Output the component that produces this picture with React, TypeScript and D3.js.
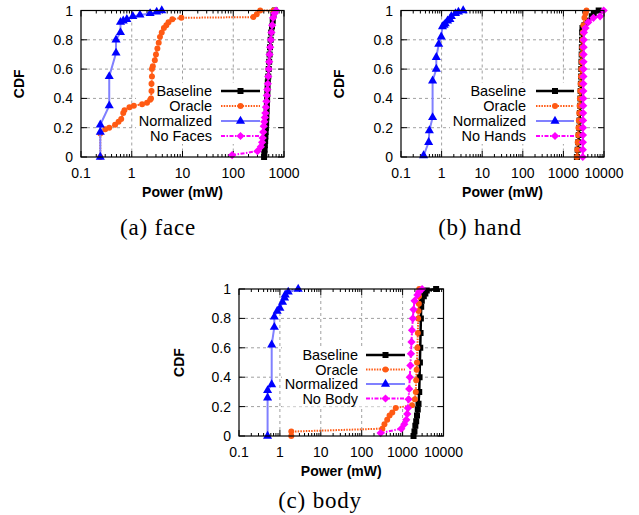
import React, { useRef, useEffect } from 'react';
import * as d3 from 'd3';

// tick values and labels
const cdfTicks = [0, 0.2, 0.4, 0.6, 0.8, 1];
const cdfLabels = ['0', '0.2', '0.4', '0.6', '0.8', '1'];
const powerTicksFace = [0.1, 1, 10, 100, 1000];
const powerTicksWide = [0.1, 1, 10, 100, 1000, 10000];
const powerLabels = ['0.1', '1', '10', '100', '1000', '10000'];

const seriesNames = ['Baseline', 'Oracle', 'Normalized'];
const lastNames = ['No Faces', 'No Hands', 'No Body'];
const captions = ['(a) face', '(b) hand', '(c) body'];

// (a) face : [power mW, cdf]
const faceBaseline: [number, number][] = [
  [405, 0], [410, 0.02], [415, 0.05], [420, 0.08], [425, 0.11], [430, 0.14], [435, 0.17],
  [440, 0.2], [445, 0.23], [450, 0.27], [455, 0.31], [460, 0.35], [465, 0.39], [470, 0.43],
  [475, 0.47], [480, 0.51], [490, 0.55], [500, 0.6], [510, 0.65], [520, 0.7], [530, 0.75],
  [545, 0.8], [560, 0.85], [580, 0.89], [600, 0.93], [620, 0.97], [660, 1.0],
];
const faceOracle: [number, number][] = [
  [0.24, 0], [0.24, 0.16], [0.3, 0.19], [0.36, 0.2], [0.47, 0.22], [0.55, 0.24], [0.62, 0.26],
  [0.68, 0.3], [0.72, 0.32], [0.9, 0.34], [1.1, 0.35], [1.6, 0.36], [2.0, 0.37], [2.3, 0.39],
  [2.4, 0.4], [2.45, 0.45], [2.45, 0.5], [2.5, 0.55], [2.5, 0.6], [2.6, 0.62], [2.85, 0.66],
  [3.0, 0.7], [3.2, 0.74], [3.4, 0.78], [3.6, 0.82], [3.9, 0.85], [4.3, 0.88], [4.8, 0.9],
  [5.3, 0.92], [6.3, 0.94], [9.5, 0.95], [250, 0.955], [290, 0.975], [340, 1.0], [620, 1.0],
];
const faceNormalized: [number, number][] = [
  [0.24, 0], [0.24, 0.17], [0.24, 0.22], [0.36, 0.35], [0.36, 0.55], [0.49, 0.71], [0.49, 0.8],
  [0.6, 0.85], [0.6, 0.92], [0.68, 0.93], [0.8, 0.94], [1.05, 0.96], [1.45, 0.97], [2.3, 0.98],
  [3.1, 0.99], [3.9, 1.0],
];
const faceNoFaces: [number, number][] = [
  [95, 0.013], [300, 0.04], [350, 0.07], [370, 0.1], [380, 0.13], [390, 0.17], [400, 0.21],
  [410, 0.24], [420, 0.27], [430, 0.3], [440, 0.34], [450, 0.38], [460, 0.42], [470, 0.46],
  [480, 0.5], [490, 0.55], [500, 0.6], [510, 0.65], [520, 0.7], [535, 0.75], [550, 0.8],
  [565, 0.85], [585, 0.9], [610, 0.95], [650, 0.98], [700, 1.0],
];

// (b) hand
const handBaseline: [number, number][] = [
  [2150, 0], [2250, 0.05], [2330, 0.1], [2400, 0.15], [2450, 0.2], [2500, 0.25], [2550, 0.3],
  [2600, 0.35], [2630, 0.4], [2660, 0.45], [2700, 0.5], [2730, 0.55], [2760, 0.6], [2790, 0.65],
  [2820, 0.7], [2850, 0.75], [2880, 0.8], [2900, 0.85], [2950, 0.88], [3300, 0.9], [4000, 0.93],
  [5000, 0.96], [5600, 0.98], [7400, 1.0],
];
const handOracle: [number, number][] = [
  [2150, 0], [2200, 0.05], [2250, 0.1], [2300, 0.15], [2350, 0.2], [2400, 0.25], [2450, 0.3],
  [2500, 0.35], [2550, 0.4], [2600, 0.45], [2650, 0.5], [2700, 0.55], [2750, 0.6], [2800, 0.65],
  [2850, 0.7], [2900, 0.75], [2950, 0.8], [3020, 0.85], [3100, 0.9], [3300, 0.95], [3500, 0.98],
  [3700, 1.0],
];
const handNormalized: [number, number][] = [
  [0.36, 0.01], [0.48, 0.1], [0.5, 0.18], [0.6, 0.27], [0.6, 0.52], [0.74, 0.6], [0.74, 0.68],
  [0.85, 0.77], [0.98, 0.82], [1.05, 0.89], [1.15, 0.9], [1.23, 0.91], [1.4, 0.93], [1.6, 0.94],
  [1.74, 0.96], [2.2, 0.98], [2.6, 0.99], [3.4, 1.0],
];
const handNoHands: [number, number][] = [
  [3000, 0], [3010, 0.05], [3020, 0.1], [3030, 0.15], [3040, 0.2], [3050, 0.25], [3060, 0.3],
  [3070, 0.35], [3080, 0.4], [3090, 0.45], [3100, 0.5], [3110, 0.55], [3120, 0.6], [3130, 0.65],
  [3140, 0.7], [3150, 0.75], [3170, 0.8], [3200, 0.85], [3500, 0.88], [4100, 0.92], [5500, 0.95],
  [8000, 0.96], [9800, 1.0],
];

// (c) body
const bodyBaseline: [number, number][] = [
  [1850, 0], [1950, 0.03], [2050, 0.07], [2150, 0.1], [2250, 0.14], [2350, 0.18], [2450, 0.22],
  [2550, 0.3], [2600, 0.4], [2650, 0.5], [2700, 0.6], [2750, 0.7], [2800, 0.8], [2850, 0.88],
  [2950, 0.92], [3300, 0.95], [3600, 0.97], [3900, 0.99], [6600, 1.0],
];
const bodyOracle: [number, number][] = [
  [1.9, 0], [1.9, 0.03], [320, 0.05], [360, 0.08], [420, 0.11], [480, 0.14], [560, 0.16],
  [680, 0.19], [1700, 0.21], [2000, 0.25], [2100, 0.3], [2150, 0.38], [2200, 0.45], [2250, 0.5],
  [2300, 0.6], [2360, 0.7], [2400, 0.8], [2450, 0.85], [2500, 0.9], [2520, 0.95], [2550, 1.0],
];
const bodyNormalized: [number, number][] = [
  [0.5, 0], [0.5, 0.26], [0.5, 0.31], [0.63, 0.35], [0.63, 0.62], [0.73, 0.74], [0.73, 0.81],
  [0.86, 0.85], [1.0, 0.87], [1.16, 0.91], [1.3, 0.94], [1.35, 0.96], [1.6, 0.98], [2.8, 1.0],
];
const bodyNoBody: [number, number][] = [
  [290, 0.02], [930, 0.05], [1100, 0.08], [1230, 0.11], [1300, 0.15], [1350, 0.19], [1400, 0.25],
  [1450, 0.32], [1500, 0.4], [1550, 0.48], [1600, 0.56], [1650, 0.64], [1700, 0.72], [1780, 0.8],
  [1850, 0.86], [1960, 0.92], [2300, 0.96], [2500, 0.98], [3000, 1.0],
];

// line styles, in plot order
const styles = [
  { line: '#000000', mark: '#000000', width: 2.5, dash: null, symbol: 'square', size: 36 },
  { line: '#ff5a14', mark: '#ff5a14', width: 2, dash: '1.5,1.2', symbol: 'circle', size: 28 },
  { line: '#8080ff', mark: '#0000ff', width: 2, dash: null, symbol: 'triangle', size: 36 },
  { line: '#ff00ff', mark: '#ff00ff', width: 2, dash: '4,1.5,1.5,1.5', symbol: 'diamond', size: 34 },
];

const sansFont = 'Liberation Sans, Arial, sans-serif';

function symbolPath(kind: string, size: number) {
  if (kind === 'square' || kind === 'diamond') return d3.symbol(d3.symbolSquare, size)();
  if (kind === 'circle') return d3.symbol(d3.symbolCircle, size)();
  return d3.symbol(d3.symbolTriangle, size)();
}

const Panel = ({ id, left, top, right, bottom, xMax, xTicks, data, lastName, legend, cdfX, caption }: any) => {
  const ref = useRef<SVGGElement>(null);

  useEffect(() => {
    const g = d3.select(ref.current);
    g.selectAll('*').remove();

    // 1. scales
    const x = d3.scaleLog().domain([0.1, xMax]).range([left, right]);
    const y = d3.scaleLinear().domain([0, 1]).range([bottom, top]);

    // 2. grid
    g.append('g').selectAll('line')
      .data(xTicks.slice(1, -1))
      .join('line')
        .attr('x1', (d: number) => x(d)).attr('x2', (d: number) => x(d))
        .attr('y1', top).attr('y2', bottom)
        .attr('stroke', '#a0a0a0').attr('stroke-dasharray', '3,3');
    g.append('g').selectAll('line')
      .data(cdfTicks.slice(1, -1))
      .join('line')
        .attr('x1', left).attr('x2', right)
        .attr('y1', (d) => y(d)).attr('y2', (d) => y(d))
        .attr('stroke', '#a0a0a0').attr('stroke-dasharray', '3,3');

    // legend box hides the grid
    const rows = legend.rows;
    g.append('rect')
      .attr('x', legend.textRight - 76).attr('y', rows[0] - 8)
      .attr('width', legend.lineEnd - legend.textRight + 80)
      .attr('height', rows[3] - rows[0] + 16)
      .attr('fill', 'white');

    // 3. ticks (inward, mirrored)
    const minor: number[] = [];
    xTicks.slice(0, -1).forEach((t: number) => {
      for (let k = 2; k < 10; k++) minor.push(t * k);
    });
    const tickG = g.append('g').attr('stroke', 'black').attr('stroke-width', 1);
    xTicks.forEach((t: number) => {
      tickG.append('line').attr('x1', x(t)).attr('x2', x(t)).attr('y1', bottom).attr('y2', bottom - 6);
      tickG.append('line').attr('x1', x(t)).attr('x2', x(t)).attr('y1', top).attr('y2', top + 6);
    });
    minor.forEach((t) => {
      tickG.append('line').attr('x1', x(t)).attr('x2', x(t)).attr('y1', bottom).attr('y2', bottom - 3);
      tickG.append('line').attr('x1', x(t)).attr('x2', x(t)).attr('y1', top).attr('y2', top + 3);
    });
    cdfTicks.forEach((t) => {
      tickG.append('line').attr('x1', left).attr('x2', left + 6).attr('y1', y(t)).attr('y2', y(t));
      tickG.append('line').attr('x1', right).attr('x2', right - 6).attr('y1', y(t)).attr('y2', y(t));
    });

    // tick labels
    g.append('g').selectAll('text')
      .data(xTicks)
      .join('text')
        .attr('x', (d: number) => x(d))
        .attr('y', bottom + 21)
        .attr('text-anchor', 'middle')
        .attr('font-family', sansFont).attr('font-size', 14)
        .text((d: number, i: number) => powerLabels[i]);
    g.append('g').selectAll('text')
      .data(cdfTicks)
      .join('text')
        .attr('x', left - 8)
        .attr('y', (d) => y(d) + 5)
        .attr('text-anchor', 'end')
        .attr('font-family', sansFont).attr('font-size', 14)
        .text((d, i) => cdfLabels[i]);

    // axis titles
    g.append('text')
      .attr('x', (left + right) / 2).attr('y', bottom + 40)
      .attr('text-anchor', 'middle')
      .attr('font-family', sansFont).attr('font-size', 14).attr('font-weight', 'bold')
      .text('Power (mW)');
    g.append('text')
      .attr('transform', `translate(${cdfX}, ${(top + bottom) / 2}) rotate(-90)`)
      .attr('text-anchor', 'middle')
      .attr('font-family', sansFont).attr('font-size', 14).attr('font-weight', 'bold')
      .text('CDF');

    // 4. curves
    const clipId = `clip-${id}`;
    g.append('clipPath').attr('id', clipId)
      .append('rect').attr('x', left).attr('y', top - 6).attr('width', right - left + 6).attr('height', bottom - top + 12);
    const plot = g.append('g').attr('clip-path', `url(#${clipId})`);
    const line = d3.line<[number, number]>().x((d) => x(d[0])).y((d) => y(d[1]));

    data.forEach((pts: [number, number][], si: number) => {
      const st = styles[si];
      plot.append('path')
        .attr('d', line(pts))
        .attr('fill', 'none')
        .attr('stroke', st.line)
        .attr('stroke-width', st.width)
        .attr('stroke-dasharray', st.dash);
      plot.append('g').selectAll('path')
        .data(pts)
        .join('path')
          .attr('d', symbolPath(st.symbol, st.size))
          .attr('transform', (d) => `translate(${x(d[0])}, ${y(d[1])})${st.symbol === 'diamond' ? ' rotate(45)' : ''}`)
          .attr('fill', st.mark);
    });

    // frame
    g.append('rect')
      .attr('x', left).attr('y', top)
      .attr('width', right - left).attr('height', bottom - top)
      .attr('fill', 'none').attr('stroke', 'black').attr('stroke-width', 1.2);

    // 5. legend
    const names = [...seriesNames, lastName];
    names.forEach((name, i) => {
      const st = styles[i];
      const ry = rows[i];
      g.append('text')
        .attr('x', legend.textRight).attr('y', ry + 5)
        .attr('text-anchor', 'end')
        .attr('font-family', sansFont).attr('font-size', 14.5)
        .text(name);
      g.append('line')
        .attr('x1', legend.lineStart).attr('x2', legend.lineEnd)
        .attr('y1', ry).attr('y2', ry)
        .attr('stroke', st.line).attr('stroke-width', st.width)
        .attr('stroke-dasharray', st.dash);
      g.append('path')
        .attr('d', symbolPath(st.symbol, st.size))
        .attr('transform', `translate(${(legend.lineStart + legend.lineEnd) / 2}, ${ry})${st.symbol === 'diamond' ? ' rotate(45)' : ''}`)
        .attr('fill', st.mark);
    });

    // caption
    g.append('text')
      .attr('x', caption.x).attr('y', caption.y)
      .attr('text-anchor', 'middle')
      .attr('font-family', 'Liberation Serif, Times New Roman, serif')
      .attr('font-size', 23).attr('letter-spacing', 0.8)
      .text(caption.text);
  }, []);

  return <g ref={ref}></g>;
};

const App = () => {
  return (
    <svg width={639} height={515} style={{ position: 'absolute', left: 0, top: 0, background: 'white' }}>
      <Panel
        id="a" left={81} top={10.5} right={284} bottom={157} xMax={1000}
        xTicks={powerTicksFace}
        data={[faceBaseline, faceOracle, faceNormalized, faceNoFaces]}
        lastName={lastNames[0]}
        legend={{ textRight: 212, lineStart: 221, lineEnd: 260, rows: [91, 106, 121, 136] }}
        cdfX={24}
        caption={{ text: captions[0], x: 158, y: 235 }}
      />
      <Panel
        id="b" left={401} top={10.5} right={604} bottom={157} xMax={10000}
        xTicks={powerTicksWide}
        data={[handBaseline, handOracle, handNormalized, handNoHands]}
        lastName={lastNames[1]}
        legend={{ textRight: 526, lineStart: 536, lineEnd: 574, rows: [91, 106, 121, 136] }}
        cdfX={344}
        caption={{ text: captions[1], x: 480, y: 235 }}
      />
      <Panel
        id="c" left={239} top={289} right={443.5} bottom={436} xMax={10000}
        xTicks={powerTicksWide}
        data={[bodyBaseline, bodyOracle, bodyNormalized, bodyNoBody]}
        lastName={lastNames[2]}
        legend={{ textRight: 358, lineStart: 366, lineEnd: 405, rows: [355, 369.5, 384, 398.5] }}
        cdfX={184}
        caption={{ text: captions[2], x: 320, y: 508 }}
      />
    </svg>
  );
};

export default App;
